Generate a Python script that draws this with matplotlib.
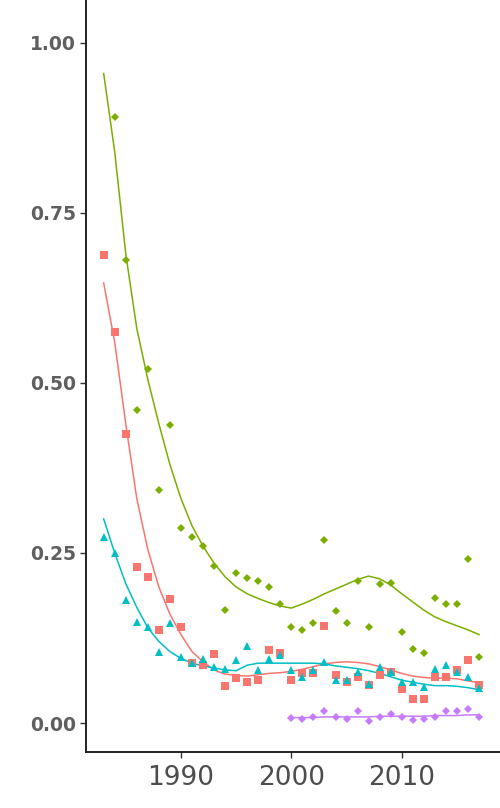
import numpy as np
import matplotlib.pyplot as plt

years = np.arange(1983, 2018)
years_green = np.arange(1984, 2018)
years_purple = np.arange(2000, 2018)

# points
red_pts = [0.688, 0.575, 0.425, 0.229, 0.215, 0.137, 0.182, 0.141, 0.088, 0.085,
           0.101, 0.054, 0.066, 0.060, 0.063, 0.107, 0.103, 0.063, 0.074, 0.074,
           0.143, 0.071, 0.060, 0.068, 0.056, 0.071, 0.075, 0.050, 0.035, 0.035,
           0.068, 0.068, 0.078, 0.093, 0.056]
green_pts = [0.891, 0.681, 0.460, 0.521, 0.343, 0.438, 0.287, 0.274, 0.260, 0.231,
             0.166, 0.220, 0.213, 0.209, 0.200, 0.175, 0.141, 0.137, 0.147, 0.269,
             0.165, 0.147, 0.209, 0.141, 0.204, 0.206, 0.134, 0.109, 0.103, 0.184,
             0.175, 0.175, 0.241, 0.097]
cyan_pts = [0.274, 0.250, 0.181, 0.149, 0.141, 0.104, 0.147, 0.097, 0.088, 0.094,
            0.082, 0.079, 0.093, 0.113, 0.078, 0.094, 0.100, 0.078, 0.068, 0.078,
            0.090, 0.063, 0.063, 0.075, 0.057, 0.082, 0.075, 0.060, 0.060, 0.053,
            0.079, 0.085, 0.075, 0.068, 0.051]
purple_pts = [0.007, 0.006, 0.009, 0.018, 0.009, 0.006, 0.018, 0.003, 0.009, 0.013,
              0.009, 0.004, 0.006, 0.009, 0.018, 0.018, 0.021, 0.009]

# smoothed curves
red_fit = [0.647, 0.56, 0.44, 0.33, 0.255, 0.20, 0.16, 0.13, 0.105, 0.09,
           0.078, 0.072, 0.070, 0.069, 0.071, 0.073, 0.074, 0.076, 0.079, 0.083,
           0.087, 0.089, 0.090, 0.089, 0.087, 0.083, 0.078, 0.073, 0.069, 0.067,
           0.066, 0.066, 0.065, 0.062, 0.059]
green_fit = [0.955, 0.84, 0.69, 0.58, 0.505, 0.44, 0.38, 0.33, 0.29, 0.26,
             0.235, 0.215, 0.20, 0.19, 0.183, 0.177, 0.172, 0.169, 0.175, 0.182,
             0.19, 0.197, 0.204, 0.211, 0.216, 0.212, 0.203, 0.19, 0.178, 0.166,
             0.156, 0.149, 0.143, 0.137, 0.13]
cyan_fit = [0.30, 0.25, 0.205, 0.17, 0.14, 0.12, 0.105, 0.095, 0.088, 0.084,
            0.081, 0.078, 0.077, 0.085, 0.088, 0.088, 0.088, 0.088, 0.088, 0.088,
            0.087, 0.084, 0.082, 0.080, 0.077, 0.073, 0.068, 0.063, 0.060, 0.057,
            0.055, 0.055, 0.054, 0.052, 0.049]
purple_fit = [0.008, 0.008, 0.008, 0.009, 0.009, 0.009, 0.009, 0.009, 0.010, 0.010,
              0.010, 0.010, 0.010, 0.011, 0.011, 0.011, 0.012, 0.012]

RED, GREEN, CYAN, PURPLE = '#F8766D', '#7CAE00', '#00BFC4', '#C77CFF'

fig = plt.figure(figsize=(5.0, 8.08), dpi=100)
ax = fig.add_axes([0.172, 0.0693, 0.828, 0.9307])

ax.plot(years, red_fit, color=RED, lw=1.1)
ax.plot(years_green, green_pts, 'D', color=GREEN, ms=4.2, mew=0)
ax.plot(years, green_fit, color=GREEN, lw=1.1)
ax.plot(years, cyan_fit, color=CYAN, lw=1.1)
ax.plot(years_purple, purple_fit, color=PURPLE, lw=1.1)
ax.plot(years, red_pts, 's', color=RED, ms=5.2, mew=0)
ax.plot(years, cyan_pts, '^', color=CYAN, ms=6.0, mew=0)
ax.plot(years_purple, purple_pts, 'D', color=PURPLE, ms=4.2, mew=0)

ax.set_xlim(1981.4, 2018.9)
ax.set_ylim(-0.0426, 1.063)
ax.set_xticks([1990, 2000, 2010])
ax.set_yticks([0.0, 0.25, 0.5, 0.75, 1.0])
ax.set_yticklabels(['0.00', '0.25', '0.50', '0.75', '1.00'])

for s in ['top', 'right']:
    ax.spines[s].set_visible(False)
for s in ['left', 'bottom']:
    ax.spines[s].set_linewidth(1.4)
    ax.spines[s].set_color('#222222')

ax.tick_params(axis='both', length=4, width=1.0, color='#333333', pad=3)
ax.tick_params(axis='x', pad=5)
for t in ax.get_yticklabels():
    t.set_fontfamily(['DejaVu Sans'])
    t.set_fontweight('bold')
    t.set_fontsize(13.5)
    t.set_color('#5f5f5f')
for t in ax.get_xticklabels():
    t.set_fontfamily(['Liberation Sans Narrow', 'DejaVu Sans'])
    t.set_fontsize(19)
    t.set_color('#4d4d4d')

fig.savefig('out.png', dpi=100)
